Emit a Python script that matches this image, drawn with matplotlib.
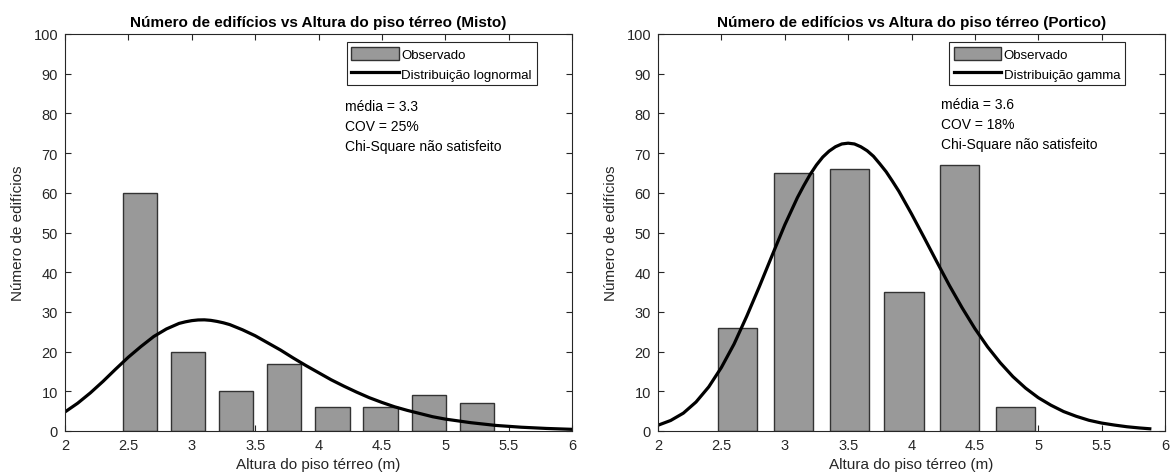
import numpy as np
import matplotlib
matplotlib.use('Agg')
import matplotlib.pyplot as plt
from matplotlib.patches import Patch
from matplotlib.lines import Line2D

plt.rcParams['font.family'] = ['Liberation Sans', 'DejaVu Sans']

# left panel (Misto)
misto_centers = [2.593, 2.97, 3.35, 3.73, 4.11, 4.49, 4.87, 5.25]
misto_counts = [60, 20, 10, 17, 6, 6, 9, 7]
misto_curve_x = [2.0, 2.1, 2.2, 2.3, 2.4, 2.5, 2.6, 2.7, 2.8, 2.9, 2.95, 3.0, 3.05, 3.1,
                 3.15, 3.2, 3.25, 3.3, 3.4, 3.5, 3.6, 3.7, 3.8, 3.9, 4.0, 4.1, 4.2,
                 4.3, 4.4, 4.5, 4.6, 4.7, 4.8, 4.9, 5.0, 5.2, 5.4, 5.6, 5.8, 6.0]
misto_curve_y = [4.8, 7.0, 9.6, 12.5, 15.6, 18.6, 21.3, 23.8, 25.7, 27.1, 27.5, 27.8, 27.97, 28.0,
                 27.87, 27.6, 27.25, 26.8, 25.5, 24.0, 22.2, 20.4, 18.4, 16.5, 14.7, 12.9, 11.3,
                 9.8, 8.4, 7.2, 6.1, 5.2, 4.4, 3.6, 3.0, 2.1, 1.4, 0.95, 0.64, 0.42]
misto_stats = ['média = 3.3', 'COV = 25%', 'Chi-Square não satisfeito']

# right panel (Portico)
portico_centers = [2.625, 3.07, 3.51, 3.94, 4.38, 4.82]
portico_counts = [26, 65, 66, 35, 67, 6]
portico_curve_x = [2.0, 2.1, 2.2, 2.3, 2.4, 2.5, 2.6, 2.7, 2.8, 2.9, 3.0, 3.1, 3.15, 3.2,
                   3.25, 3.3, 3.35, 3.4, 3.45, 3.5, 3.55, 3.6, 3.65, 3.7, 3.75, 3.8, 3.85,
                   3.9, 4.0, 4.1, 4.2, 4.3, 4.4, 4.5, 4.6, 4.7, 4.8, 4.9, 5.0, 5.1, 5.2,
                   5.3, 5.4, 5.5, 5.6, 5.7, 5.8, 5.88]
portico_curve_y = [1.45, 2.65, 4.5, 7.3, 11.1, 16.0, 21.9, 28.9, 36.4, 44.2, 51.9, 58.8, 61.8, 64.6,
                   67.0, 69.0, 70.5, 71.6, 72.3, 72.5, 72.3, 71.6, 70.6, 69.2, 67.3, 65.3, 62.9,
                   60.4, 54.7, 48.7, 42.6, 36.6, 31.0, 25.8, 21.2, 17.2, 13.7, 10.8, 8.4, 6.5, 4.9,
                   3.7, 2.7, 2.0, 1.5, 1.07, 0.76, 0.56]
portico_stats = ['média = 3.6', 'COV = 18%', 'Chi-Square não satisfeito']

x_ticks = [2, 2.5, 3, 3.5, 4, 4.5, 5, 5.5, 6]
x_labels = ['2', '2.5', '3', '3.5', '4', '4.5', '5', '5.5', '6']
y_ticks = list(range(0, 101, 10))

W, H = 1173, 477
fig = plt.figure(figsize=(W / 100, H / 100), dpi=100)
ax1 = fig.add_axes([65 / W, 45 / H, 507 / W, 397 / H])
ax2 = fig.add_axes([658 / W, 45 / H, 507 / W, 397 / H])

axis_col = '#262626'


def draw(ax, centers, counts, width, cx, cy, title, dist_label, stats, leg_x, txt_x, txt_y):
    ax.bar(centers, counts, width=width, color='#999999', edgecolor='#333333',
           linewidth=1.0, zorder=2)
    ax.plot(cx, cy, color='black', lw=2.3, zorder=3, solid_joinstyle='round')
    ax.set_xlim(2, 6)
    ax.set_ylim(0, 100)
    ax.set_xticks(x_ticks)
    ax.set_xticklabels(x_labels)
    ax.set_yticks(y_ticks)
    ax.tick_params(direction='in', top=True, right=True, length=4, width=0.8,
                   labelsize=10.5, colors=axis_col, pad=5)
    for s in ax.spines.values():
        s.set_color(axis_col)
        s.set_linewidth(0.8)
        s.set_zorder(4)
    ax.set_title(title, fontsize=11, fontweight='bold', pad=6)
    ax.set_xlabel('Altura do piso térreo (m)', fontsize=11, color=axis_col, labelpad=4)
    ax.set_ylabel('Número de edifícios', fontsize=11, color=axis_col, labelpad=6)

    handles = [Patch(facecolor='#999999', edgecolor='#333333', linewidth=1.0),
               Line2D([0], [0], color='black', lw=2.3)]
    leg = ax.legend(handles, ['Observado', dist_label], loc='upper right',
                    bbox_to_anchor=(leg_x, 0.979), borderaxespad=0, fancybox=False,
                    framealpha=1, edgecolor='#262626', fontsize=9.5,
                    handlelength=3.6, handleheight=1.1, handletextpad=0.2,
                    borderpad=0.35, labelspacing=0.45)
    leg.get_frame().set_linewidth(0.8)

    for i, s in enumerate(stats):
        ax.text(txt_x, txt_y - i * 0.0504, s, transform=ax.transAxes,
                fontsize=10, va='center', ha='left', color='black')


draw(ax1, misto_centers, misto_counts, 0.27, misto_curve_x, misto_curve_y,
     'Número de edifícios vs Altura do piso térreo (Misto)', 'Distribuição lognormal',
     misto_stats, 0.930, 0.552, 0.819)
draw(ax2, portico_centers, portico_counts, 0.31, portico_curve_x, portico_curve_y,
     'Número de edifícios vs Altura do piso térreo (Portico)', 'Distribuição gamma',
     portico_stats, 0.921, 0.558, 0.824)

fig.savefig('out.png', dpi=100)
